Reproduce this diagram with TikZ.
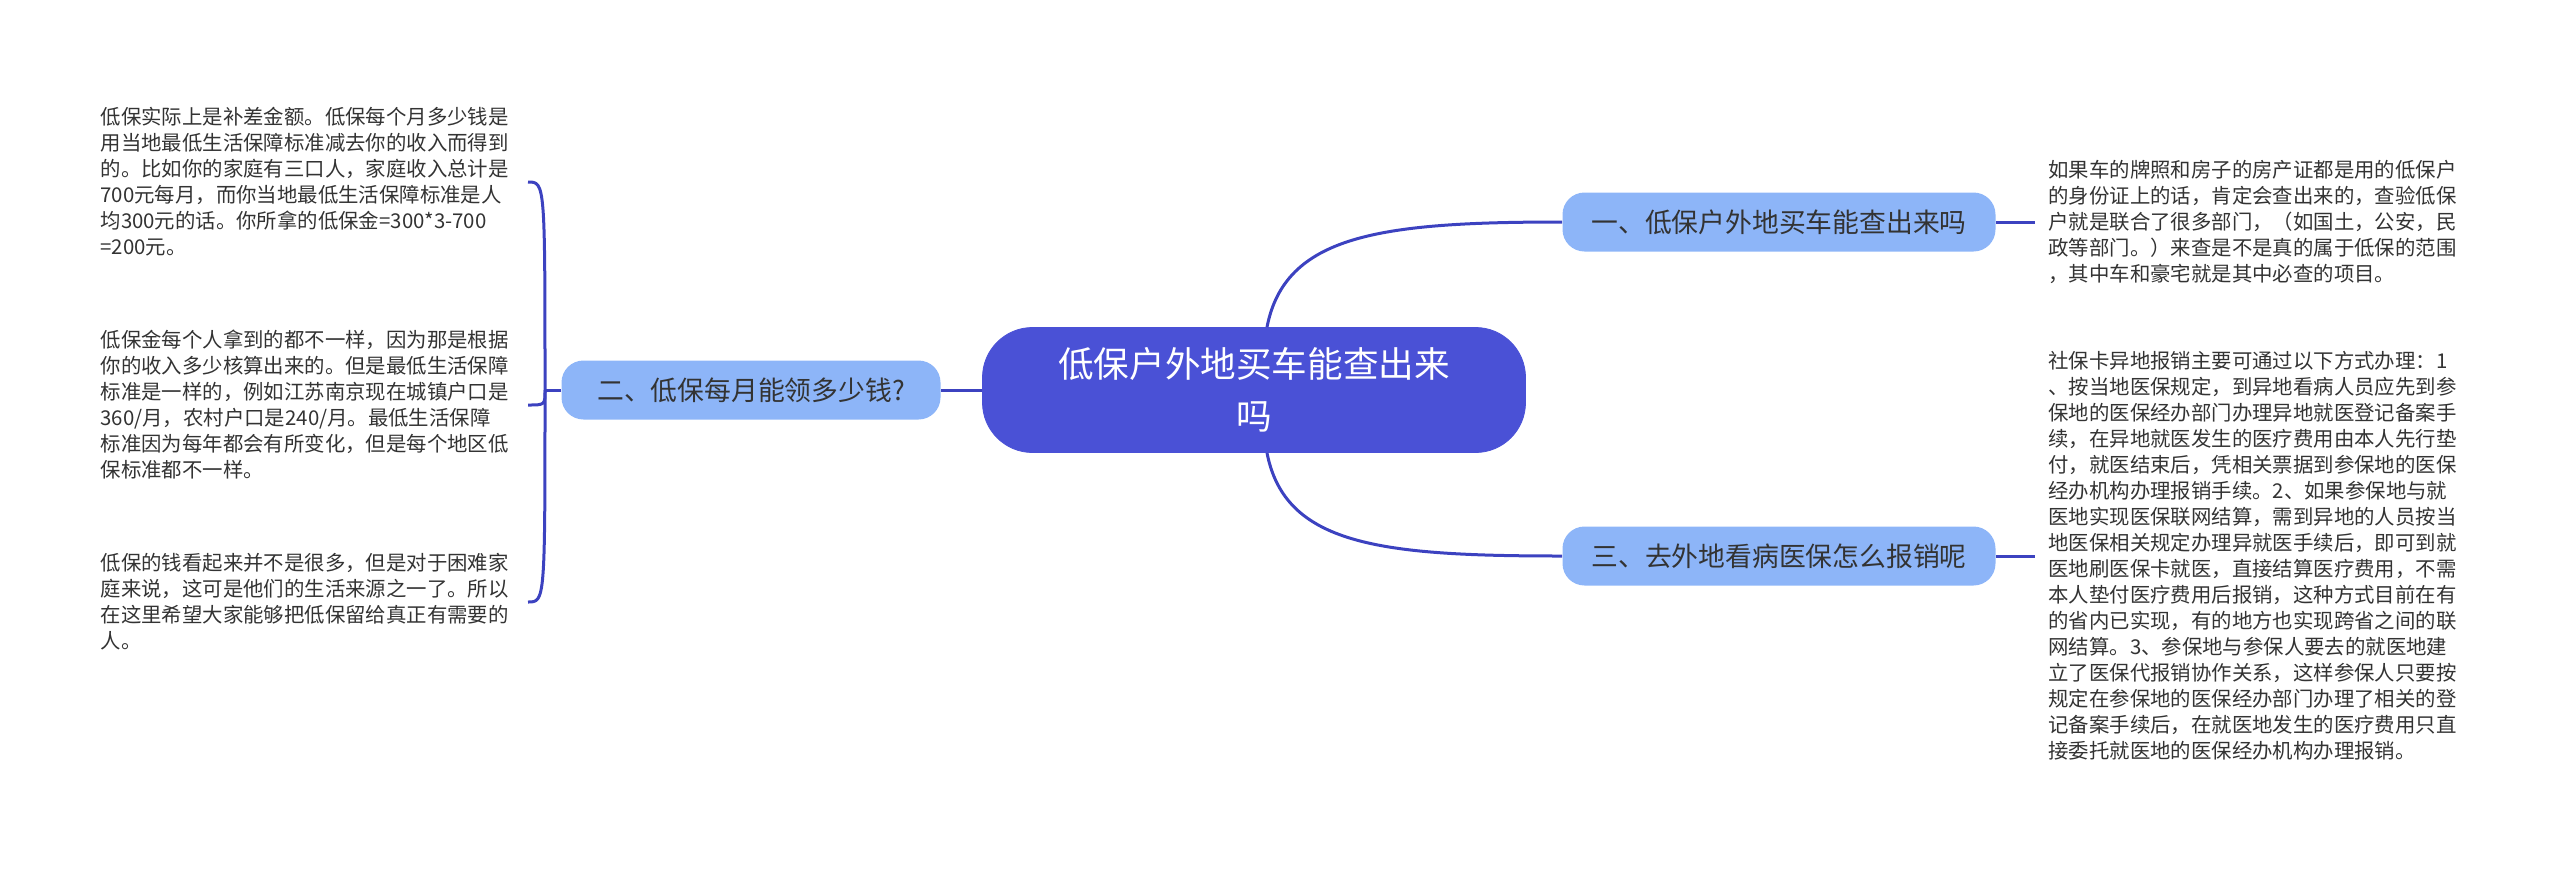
\documentclass[tikz,border=0pt]{standalone}
\usepackage{fontspec}
\setmainfont{Noto Sans CJK SC}
\definecolor{rootblue}{HTML}{4A51D6}
\definecolor{topicblue}{HTML}{8DB5F8}
\definecolor{linkblue}{HTML}{3C42C0}
\definecolor{inktext}{HTML}{333333}
\tikzset{
  root/.style={rectangle, rounded corners=25pt, fill=rootblue, draw=rootblue, text=white, minimum width=271.5pt, minimum height=62.5pt, align=center, font=\fontsize{17.8pt}{26pt}\selectfont},
  topic/.style={rectangle, rounded corners=11pt, fill=topicblue, text=inktext, minimum height=29.5pt, font=\fontsize{13.4pt}{16pt}\selectfont},
  note/.style={text width=206pt, align=left, inner xsep=7.5pt, inner ysep=0pt, text=inktext, font=\fontsize{10.2pt}{13pt}\selectfont},
  link/.style={draw=linkblue, line width=1.5pt}
}

\begin{document}
\begin{tikzpicture}[x=0.5pt,y=-0.5pt]
  \useasboundingbox (0,0) rectangle (2560,874);
  \node[root] (ctr) at (1254,390) {低保户外地买车能查出来\\吗};
  \node[topic, minimum width=216.5pt] (b1) at (1779,222) {一、低保户外地买车能查出来吗};
  \node[topic, minimum width=189.5pt] (b2) at (751,390) {二、低保每月能领多少钱?};
  \node[topic, minimum width=216.5pt] (b3) at (1779,556) {三、去外地看病医保怎么报销呢};

  \node[note, anchor=east] (l1) at (528,182) {低保实际上是补差金额。低保每个月多少钱是\\用当地最低生活保障标准减去你的收入而得到\\的。比如你的家庭有三口人，家庭收入总计是\\700元每月，而你当地最低生活保障标准是人\\均300元的话。你所拿的低保金=300*3-700\\=200元。};
  \node[note, anchor=east] (l2) at (528,405) {低保金每个人拿到的都不一样，因为那是根据\\你的收入多少核算出来的。但是最低生活保障\\标准是一样的，例如江苏南京现在城镇户口是\\360/月，农村户口是240/月。最低生活保障\\标准因为每年都会有所变化，但是每个地区低\\保标准都不一样。};
  \node[note, anchor=east] (l3) at (528,602) {低保的钱看起来并不是很多，但是对于困难家\\庭来说，这可是他们的生活来源之一了。所以\\在这里希望大家能够把低保留给真正有需要的\\人。};

  \node[note, anchor=west, inner xsep=6.5pt] (r1) at (2035,222) {如果车的牌照和房子的房产证都是用的低保户\\的身份证上的话，肯定会查出来的，查验低保\\户就是联合了很多部门，（如国土，公安，民\\政等部门。）来查是不是真的属于低保的范围\\，其中车和豪宅就是其中必查的项目。};
  \node[note, anchor=west, inner xsep=6.5pt] (r2) at (2035,556) {社保卡异地报销主要可通过以下方式办理：1\\、按当地医保规定，到异地看病人员应先到参\\保地的医保经办部门办理异地就医登记备案手\\续，在异地就医发生的医疗费用由本人先行垫\\付，就医结束后，凭相关票据到参保地的医保\\经办机构办理报销手续。2、如果参保地与就\\医地实现医保联网结算，需到异地的人员按当\\地医保相关规定办理异就医手续后，即可到就\\医地刷医保卡就医，直接结算医疗费用，不需\\本人垫付医疗费用后报销，这种方式目前在有\\的省内已实现，有的地方也实现跨省之间的联\\网结算。3、参保地与参保人要去的就医地建\\立了医保代报销协作关系，这样参保人只要按\\规定在参保地的医保经办部门办理了相关的登\\记备案手续后，在就医地发生的医疗费用只直\\接委托就医地的医保经办机构办理报销。};

  \coordinate (jn) at (545,390);
  \draw[link] (ctr.west) -- (b2.east);
  \draw[link] (b2.west) -- (jn);
  \draw[link] (jn) .. controls (jn |- l1.east) .. (l1.east);
  \draw[link] (jn) .. controls (jn |- l2.east) .. (l2.east);
  \draw[link] (jn) .. controls (jn |- l3.east) .. (l3.east);
  \draw[link] ([xshift=6.5pt]ctr.north) .. controls +(18,-92) and +(-183,0) .. (b1.west);
  \draw[link] ([xshift=6.5pt]ctr.south) .. controls +(18,92) and +(-183,0) .. (b3.west);
  \draw[link] (b1.east) -- (r1.west);
  \draw[link] (b3.east) -- (r2.west);
\end{tikzpicture}
\end{document}
